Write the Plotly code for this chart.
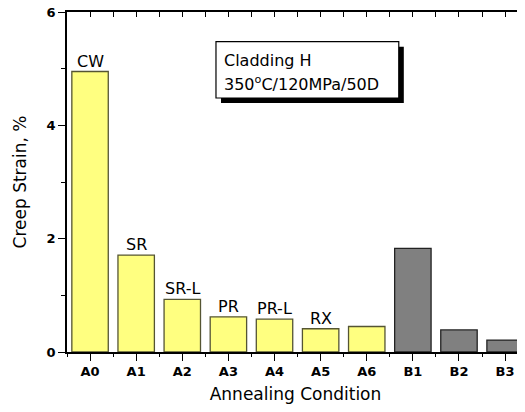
import plotly.graph_objects as go

categories = ["A0", "A1", "A2", "A3", "A4", "A5", "A6", "B1", "B2", "B3"]
creep_strain = [4.95, 1.71, 0.93, 0.62, 0.58, 0.41, 0.45, 1.83, 0.39, 0.21]
bar_labels = ["CW", "SR", "SR-L", "PR", "PR-L", "RX", "", "", "", ""]
groups = ["A", "A", "A", "A", "A", "A", "A", "B", "B", "B"]
y_ticks = [0, 2, 4, 6]

FONT = "DejaVu Sans, Arial, sans-serif"
fill = {"A": "#FFFF80", "B": "#808080"}
edge = {"A": "#555533", "B": "#222222"}

x = list(range(len(categories)))
xr = [-0.5, 9.41]

fig = go.Figure()
fig.add_trace(go.Bar(
    x=x, y=creep_strain, width=0.79,
    marker=dict(color=[fill[g] for g in groups],
                line=dict(color=[edge[g] for g in groups], width=1.3)),
    showlegend=False, hoverinfo="skip",
))
# invisible trace to host mirrored axes
fig.add_trace(go.Scatter(x=[0], y=[0], xaxis="x2", yaxis="y2",
                         mode="markers", marker=dict(opacity=0),
                         showlegend=False, hoverinfo="skip"))

for xi, v, lab in zip(x, creep_strain, bar_labels):
    if lab:
        fig.add_annotation(x=xi, y=v, text=lab, showarrow=False,
                           xanchor="center", yanchor="bottom", yshift=-1,
                           font=dict(family=FONT, size=16, color="black"))

minor_x = [i + 0.5 for i in range(-1, len(categories))]

fig.update_layout(
    width=517, height=404,
    margin=dict(l=59, r=1, t=4, b=60, autoexpand=False),
    plot_bgcolor="white", paper_bgcolor="white",
    font=dict(family=FONT, color="black"),
    xaxis=dict(range=xr, tickvals=x, ticktext=categories, automargin=False,
               ticks="outside", ticklen=7, tickwidth=1.2, tickcolor="black",
               minor=dict(tickvals=minor_x, ticks="outside", ticklen=3,
                          tickwidth=1.2, tickcolor="black"),
               showline=True, linecolor="black", linewidth=1.5,
               showgrid=False, zeroline=False,
               tickfont=dict(family=FONT, size=13, color="black", weight="bold"),
               title=dict(text="Annealing Condition",
                          font=dict(family=FONT, size=17), standoff=10)),
    yaxis=dict(range=[0, 6], tickvals=y_ticks, automargin=False,
               ticks="outside", ticklen=7, tickwidth=1.2, tickcolor="black",
               ticklabeloverflow="allow",
               minor=dict(tickvals=[1, 3, 5], ticks="outside", ticklen=4,
                          tickwidth=1.2, tickcolor="black"),
               showline=True, linecolor="black", linewidth=1.5,
               showgrid=False, zeroline=False,
               tickfont=dict(family=FONT, size=13, color="black", weight="bold"),
               title=dict(text="Creep Strain, %",
                          font=dict(family=FONT, size=17), standoff=16)),
    xaxis2=dict(range=xr, overlaying="x", side="top", anchor="y2",
                tickvals=x, showticklabels=False, automargin=False,
                ticks="inside", ticklen=5, tickwidth=1.2, tickcolor="black",
                minor=dict(tickvals=minor_x, ticks="inside", ticklen=5,
                           tickwidth=1.2, tickcolor="black"),
                showline=True, linecolor="black", linewidth=1.5,
                showgrid=False, zeroline=False),
    yaxis2=dict(range=[0, 6], overlaying="y", side="right", anchor="x2",
                tickvals=y_ticks, showticklabels=False, automargin=False,
                ticks="inside", ticklen=5, tickwidth=1.2, tickcolor="black",
                minor=dict(tickvals=[1, 3, 5], ticks="inside", ticklen=3,
                           tickwidth=1.2, tickcolor="black"),
                showline=True, linecolor="black", linewidth=1.5,
                showgrid=False, zeroline=False),
)

# Info box with drop shadow
fig.add_shape(type="rect", xref="paper", yref="paper",
              x0=0.337, x1=0.737, y0=0.732, y1=0.898,
              fillcolor="black", line=dict(width=0), layer="above")
fig.add_shape(type="rect", xref="paper", yref="paper",
              x0=0.326, x1=0.726, y0=0.747, y1=0.913,
              fillcolor="white", line=dict(color="black", width=1.2), layer="above")
fig.add_annotation(xref="paper", yref="paper", x=0.34, y=0.858,
                   xanchor="left", yanchor="middle", showarrow=False,
                   text="Cladding H", font=dict(family=FONT, size=16))
fig.add_annotation(xref="paper", yref="paper", x=0.34, y=0.79,
                   xanchor="left", yanchor="middle", showarrow=False,
                   text="350<sup>o</sup>C/120MPa/50D", font=dict(family=FONT, size=16))

fig.write_html("out.html")
